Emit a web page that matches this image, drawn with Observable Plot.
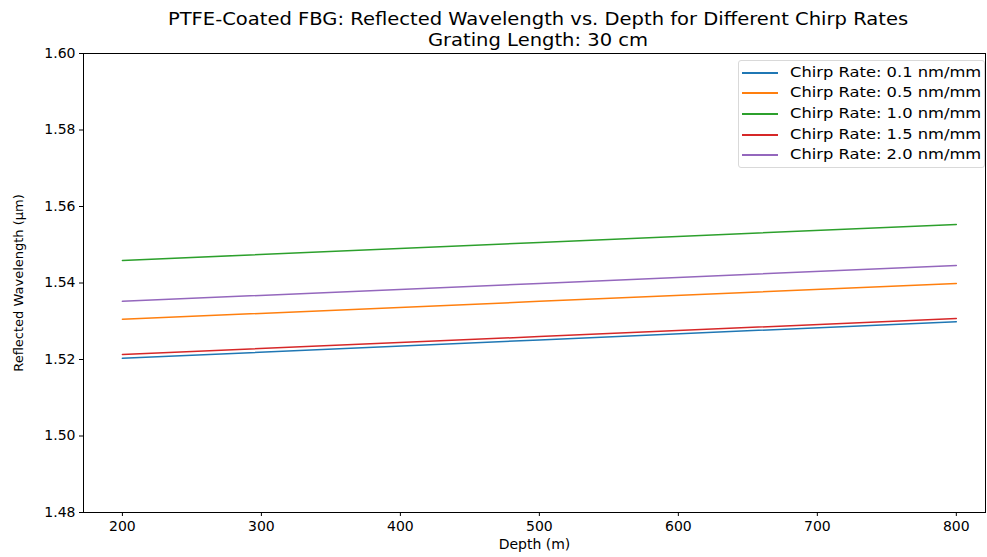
<!DOCTYPE html>
<html><head><meta charset="utf-8">
<script src="https://cdn.jsdelivr.net/npm/d3@7"></script>
<script src="https://cdn.jsdelivr.net/npm/@observablehq/plot@0.6"></script>
<style>
body{margin:0;background:#fff;font-family:"DejaVu Sans",sans-serif;}
#wrap{position:relative;width:987px;height:557px;overflow:hidden;}
#title{position:absolute;z-index:2;left:0;top:8px;width:1076px;text-align:center;font-size:18px;line-height:21px;color:#000;font-family:"DejaVu Sans",sans-serif;transform:scaleX(1.085);transform-origin:538px 0;}
#chart{position:absolute;z-index:1;left:0;top:45px;}
#legend{position:absolute;z-index:3;left:738px;top:60px;width:247px;height:108px;border:1px solid #d9d9d9;border-radius:3px;background:rgba(255,255,255,0.8);box-sizing:border-box;}
.li{position:absolute;left:0;height:20px;font-size:14.5px;line-height:20px;color:#000;}
.li span.sw{position:absolute;left:3px;top:10px;width:36px;height:2px;}
.li span.tx{position:absolute;left:51px;top:0;white-space:nowrap;transform:scaleX(1.125);transform-origin:0 0;}
</style></head>
<body><div id="wrap"><div id="title">PTFE-Coated FBG: Reflected Wavelength vs. Depth for Different Chirp Rates<br>Grating Length: 30 cm</div><div id="chart"></div><div id="legend"></div></div>
<script>
const depths = [200, 500, 800];
const seriesNames = ["Chirp Rate: 0.1 nm/mm","Chirp Rate: 0.5 nm/mm","Chirp Rate: 1.0 nm/mm","Chirp Rate: 1.5 nm/mm","Chirp Rate: 2.0 nm/mm"];
const chirp01 = [1.5203, 1.5251, 1.5299];
const chirp05 = [1.5305, 1.5352, 1.5399];
const chirp10 = [1.5459, 1.5506, 1.5553];
const chirp15 = [1.5213, 1.5260, 1.5307];
const chirp20 = [1.5352, 1.5399, 1.5446];
const colors = ["#1f77b4","#ff7f0e","#2ca02c","#d62728","#9467bd"];
const xTicks = [200,300,400,500,600,700,800];
const yTicks = [1.48,1.50,1.52,1.54,1.56,1.58,1.60];

const allSeries = [chirp01, chirp05, chirp10, chirp15, chirp20];
const data = [];
allSeries.forEach((s,i)=>s.forEach((v,j)=>data.push({depth:depths[j], wl:v, series:seriesNames[i]})));

const plot = Plot.plot({
  width: 987, height: 512,
  marginLeft: 83, marginRight: 2, marginTop: 8, marginBottom: 45,
  style: {fontFamily: "'DejaVu Sans', sans-serif", fontSize: "14px", color: "#000", background: "transparent"},
  x: {domain: [172, 821], ticks: xTicks, tickFormat: d => String(d), label: null},
  y: {domain: [1.48, 1.60], ticks: yTicks, tickFormat: d => d.toFixed(2), label: null},
  color: {domain: seriesNames, range: colors},
  marks: [
    Plot.line(data, {x: "depth", y: "wl", stroke: "series", strokeWidth: 1.5, z: "series"}),
    Plot.frame({stroke: "#000", strokeWidth: 1}),
    Plot.axisX({ticks: xTicks, tickSize: 4, tickPadding: 5, fontSize: 14, label: null, tickFormat: d=>String(d)}),
    Plot.axisY({ticks: yTicks, tickSize: 4, tickPadding: 4, fontSize: 14, label: null, tickFormat: d=>d.toFixed(2)}),
    Plot.text(["Depth (m)"], {frameAnchor: "bottom", textAnchor: "middle", dy: 36, fontSize: 14, fill: "#000"}),
    Plot.text(["Reflected Wavelength (\u00b5m)"], {frameAnchor: "left", textAnchor: "middle", dx: -65, rotate: -90, fontSize: 13, fill: "#000"})
  ]
});
document.getElementById("chart").appendChild(plot);

const leg = document.getElementById("legend");
seriesNames.forEach((n,i)=>{
  const d = document.createElement("div");
  d.className = "li";
  d.style.top = (0.5 + i*20.7) + "px";
  d.innerHTML = `<span class="sw" style="background:${colors[i]}"></span><span class="tx">${n}</span>`;
  leg.appendChild(d);
});
</script></body></html>
